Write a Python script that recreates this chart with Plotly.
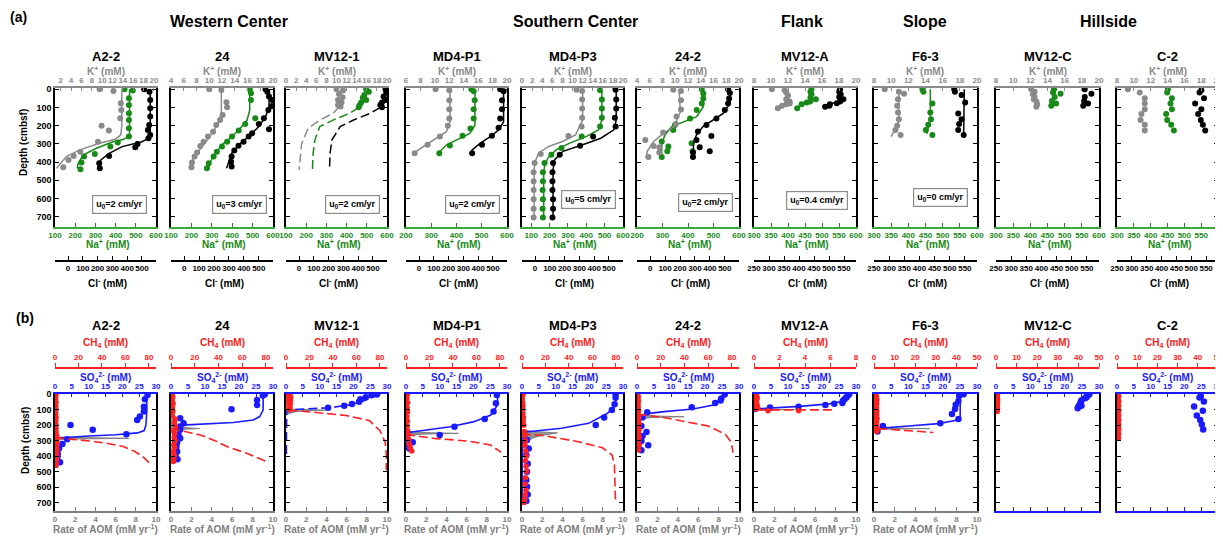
import plotly.graph_objects as go

FIG_W, FIG_H = 1215, 531      # page body has an 8 px margin
OFF = 8
FONT = "Liberation Sans, Arial, sans-serif"

# ======================= DATA =======================
stations = ["A2-2", "24", "MV12-1", "MD4-P1", "MD4-P3", "24-2", "MV12-A", "F6-3", "MV12-C", "C-2"]
groups = ["Western Center", "Southern Center", "Flank", "Slope", "Hillside"]
velocity_labels = ["u<sub>0</sub>=2 cm/yr", "u<sub>0</sub>=3 cm/yr", "u<sub>0</sub>=2 cm/yr",
                   "u<sub>0</sub>=2 cm/yr", "u<sub>0</sub>=5 cm/yr", "u<sub>0</sub>=2 cm/yr",
                   "u<sub>0</sub>=0.4 cm/yr", "u<sub>0</sub>=0 cm/yr", None, None]
depth_ticks = [0, 100, 200, 300, 400, 500, 600, 700]

K_ranges = [[0.9, 20.4], [4, 20], [0, 20], [6, 20], [0, 20], [4, 20], [8, 20], [8, 20], [8, 20], [8, 20]]
Na_ranges = [[100, 600], [100, 600], [100, 600], [200, 600], [50, 600], [200, 600],
             [300, 600], [300, 600], [300, 600], [300, 600]]
Na_dticks = [100, 100, 100, 100, 100, 100, 50, 50, 50, 50]
Cl_ranges = [[-88, 595]] * 6 + [[250, 590]] * 4
Cl_ticks = [[0, 100, 200, 300, 400, 500]] * 6 + [[250, 300, 350, 400, 450, 500, 550]] * 4
CH4_ranges = [[0, 86]] * 6 + [[0, 8]] + [[0, 50]] * 3
CH4_dticks = [20] * 6 + [2] + [10] * 3
SO4_range = [0, 30]
AOM_range = [0, 10]

# ---- (a) pore-water K+, Na+, Cl- : [depth (cmbsf), concentration (mM)] ----
A22_K = [[0, 9.5], [9, 12.2], [77, 13.6], [114, 13.7], [159, 13.5], [200, 9.9], [227, 11.3], [288, 9.2],
         [343, 5.8], [366, 4.5], [388, 3.5], [429, 2.5]]
A22_K_fit = [[0, 13.8], [100, 13.8], [200, 13.8], [250, 13.6], [275, 12.5], [297, 9.5], [333, 5.7],
             [370, 3.1], [434, 1.2]]
A22_Na = [[0, 444], [7, 485], [49, 466], [86, 466], [132, 466], [169, 466], [214, 466], [260, 466],
          [293, 411], [315, 374], [355, 297], [370, 244], [403, 231], [440, 226]]
A22_Na_fit = [[0, 469], [150, 469], [255, 469], [275, 440], [288, 387], [324, 305], [361, 239],
              [407, 215], [434, 210]]
A22_Cl = [[0, 515], [13, 551], [59, 556], [104, 556], [150, 556], [196, 549], [224, 540], [251, 556],
          [269, 544], [300, 470], [318, 455], [366, 278], [407, 211], [434, 215]]
A22_Cl_fit = [[0, 556], [150, 556], [258, 556], [275, 530], [288, 500], [315, 367], [352, 278],
              [388, 222], [434, 200]]

S24_K = [[0, 10.0], [4, 11.9], [71, 12.7], [99, 12.8], [141, 12.1], [169, 11.7], [196, 11.1], [233, 10.6],
         [260, 9.8], [288, 9.1], [311, 8.6], [348, 8.1], [370, 7.7], [403, 7.3], [429, 7.2]]
S24_K_fit = [[0, 11.9], [130, 11.9], [187, 11.4], [260, 10.1], [333, 8.5], [388, 7.4], [434, 6.9]]
S24_Na = [[0, 486], [22, 492], [59, 492], [159, 513], [190, 464], [227, 432], [260, 399], [288, 375],
          [315, 350], [343, 325], [370, 309], [407, 285], [434, 276]]
S24_Na_fit = [[0, 486], [114, 486], [169, 473], [214, 440], [251, 407], [297, 358], [352, 317],
              [398, 293], [434, 285]]
S24_Cl = [[0, 545], [13, 557], [40, 568], [59, 590], [92, 588], [114, 564], [159, 534], [190, 500],
          [220, 568], [242, 455], [260, 432], [288, 398], [310, 364], [337, 336], [370, 318], [398, 314],
          [425, 318]]
S24_Cl_fit = [[0, 568], [100, 568], [150, 545], [205, 500], [260, 432], [306, 364], [352, 318],
              [407, 295], [434, 284]]

MV121_K = [[0, 10.0], [7, 11.3], [26, 10.5], [44, 11.2], [59, 10.3], [73, 11.0], [86, 10.3], [95, 10.8]]
MV121_K_fit = [[95, 10.6], [132, 9.3], [169, 6.7], [214, 4.4], [297, 3.1], [370, 2.8], [443, 2.6]]
MV121_Na = [[0, 497], [13, 510], [31, 488], [46, 480], [59, 497], [73, 472], [88, 464], [99, 460]]
MV121_Na_fit = [[99, 460], [132, 415], [169, 333], [205, 267], [279, 243], [352, 234], [443, 231]]
MV121_Cl = [[0, 585], [18, 590], [40, 572], [59, 584], [73, 561], [86, 550], [99, 561]]
MV121_Cl_fit = [[99, 550], [132, 482], [169, 369], [205, 278], [279, 222], [352, 210], [443, 206]]

MD4P1_K = [[0, 10.1], [5, 12.0], [60, 12.0], [109, 12.0], [160, 12.0], [200, 11.8], [260, 10.7],
           [305, 9.0], [351, 7.2]]
MD4P1_K_fit = [[0, 12.1], [178, 12.1], [233, 11.6], [269, 10.2], [305, 8.9], [333, 7.7], [360, 7.0]]
MD4P1_Na = [[0, 459], [11, 468], [60, 472], [109, 468], [160, 468], [215, 455], [255, 424], [309, 374],
            [351, 332]]
MD4P1_Na_fit = [[0, 473], [196, 473], [242, 453], [278, 400], [305, 361], [342, 334], [360, 332]]
MD4P1_Cl = [[0, 549], [11, 572], [60, 561], [109, 561], [160, 549], [211, 538], [255, 493], [305, 426],
            [351, 359]]
MD4P1_Cl_fit = [[0, 572], [178, 572], [224, 538], [260, 482], [296, 415], [333, 359], [360, 352]]

MD4P3_K = [[2, 10.8], [9, 11.9], [56, 11.9], [105, 11.9], [156, 11.9], [205, 11.8], [256, 9.2], [356, 3.7],
           [405, 2.5], [456, 2.3], [505, 2.3], [554, 2.3], [605, 2.3], [656, 2.3], [705, 2.3]]
MD4P3_K_fit = [[0, 12.0], [169, 12.0], [251, 10.6], [287, 8.0], [314, 5.3], [350, 3.3], [396, 2.6],
               [441, 2.4], [714, 2.4]]
MD4P3_Na = [[5, 475], [56, 485], [105, 485], [156, 485], [205, 475], [259, 375], [323, 265], [360, 210],
            [405, 173], [456, 164], [505, 164], [554, 162], [605, 164], [656, 162], [705, 164]]
MD4P3_Na_fit = [[0, 485], [169, 485], [223, 466], [259, 402], [296, 310], [332, 237], [378, 191],
                [423, 173], [459, 168], [714, 168]]
MD4P3_Cl = [[2, 545], [56, 549], [105, 549], [156, 540], [205, 545], [259, 393], [310, 305], [360, 167],
            [405, 122], [456, 118], [505, 118], [554, 118], [605, 122], [656, 122], [705, 118]]
MD4P3_Cl_fit = [[0, 549], [169, 549], [223, 533], [269, 445], [305, 322], [341, 189], [387, 133],
                [441, 122], [714, 122]]

S242_K = [[2, 9.7], [9, 10.9], [60, 10.9], [111, 10.9], [150, 10.2], [191, 10.1], [238, 8.1], [278, 5.3],
          [311, 6.6], [318, 7.5], [347, 7.5], [372, 5.8]]
S242_K_fit = [[0, 10.6], [123, 10.8], [205, 9.8], [241, 8.2], [287, 6.6], [341, 5.6], [378, 5.4]]
S242_Na = [[0, 454], [23, 460], [51, 460], [78, 454], [114, 434], [160, 408], [196, 349], [223, 342],
           [287, 297], [296, 414], [314, 323], [341, 319], [341, 418], [372, 297]]
S242_Na_fit = [[0, 460], [96, 460], [150, 434], [178, 381], [205, 336], [251, 310], [296, 297], [372, 297]]
S242_Cl = [[0, 522], [20, 534], [51, 529], [78, 522], [114, 500], [160, 444], [196, 377], [232, 320],
           [256, 410], [278, 310], [318, 332], [341, 399], [347, 287], [372, 287]]
S242_Cl_fit = [[0, 534], [78, 534], [132, 489], [169, 421], [205, 354], [251, 310], [296, 291], [372, 287]]

MV12A_K = [[0, 10.1], [5, 11.6], [18, 11.8], [36, 12.0], [55, 11.8], [67, 12.2], [78, 12.2], [82, 11.8],
           [91, 11.3], [104, 10.8]]
MV12A_K_fit = [[60, 12.2], [82, 11.4], [109, 10.7]]
MV12A_Na = [[0, 469], [13, 466], [27, 469], [45, 466], [55, 482], [67, 465], [73, 455], [82, 440], [104, 427]]
MV12A_Na_fit = [[55, 484], [73, 465], [85, 440], [109, 425]]
MV12A_Cl = [[0, 537], [13, 534], [27, 539], [42, 534], [55, 548], [67, 537], [76, 526], [82, 503],
            [91, 501], [96, 487]]
MV12A_Cl_fit = [[55, 548], [73, 520], [85, 498], [104, 486]]

F63_K = [[0, 9.25], [13, 10.9], [24, 11.5], [55, 10.8], [91, 10.7], [127, 10.8], [164, 10.9], [200, 10.7],
         [224, 10.5], [251, 11.1]]
F63_K_fit = [[0, 10.9], [173, 10.9], [215, 10.5], [260, 10.0]]
F63_Na = [[0, 441], [13, 444], [78, 470], [127, 464], [164, 466], [195, 458], [224, 451], [251, 470]]
F63_Na_fit = [[0, 464], [150, 464], [200, 459], [245, 454]]
F63_Cl = [[0, 515], [13, 517], [31, 539], [73, 551], [133, 528], [164, 539], [191, 531], [224, 528],
          [251, 546]]
F63_Cl_fit = [[0, 548], [100, 548], [200, 547], [251, 546]]

MV12C_K = [[0, 12.1], [13, 12.5], [27, 12.3], [42, 12.5], [55, 12.4], [67, 12.7], [82, 12.8], [96, 12.7]]
MV12C_Na = [[0, 469], [18, 466], [24, 488], [42, 471], [64, 463], [78, 475], [91, 461]]
MV12C_Cl = [[0, 543], [24, 565], [42, 543], [64, 541], [78, 554], [91, 538]]

C2_K = [[0, 9.3], [18, 10.7], [49, 11.3], [78, 11.3], [109, 11.3], [136, 10.9], [169, 10.8], [195, 11.3],
        [227, 11.3]]
C2_Na = [[0, 451], [18, 449], [49, 463], [78, 459], [109, 463], [136, 446], [169, 449], [195, 461], [227, 469]]
C2_Cl = [[5, 534], [18, 528], [49, 543], [78, 513], [109, 534], [136, 523], [169, 532], [195, 539], [227, 547]]

# ---- (b) SO4, CH4 and AOM rate : [depth (cmbsf), value] ----
A22_SO4 = [[4, 27.5], [32, 26.7], [80, 26.4], [112, 26.4], [144, 25.2], [166, 24.4], [198, 4.6], [230, 11.2],
           [258, 21.2], [291, 3.6], [321, 2.2], [349, 1.2], [381, 0.8], [403, 0.8], [439, 1.5]]
A22_SO4_fit = [[0, 27.2], [100, 27.3], [200, 27.0], [235, 26.5], [250, 24.5], [262, 18], [270, 10], [277, 4],
               [283, 1], [290, 0.3], [450, 0.1]]
A22_CH4 = [[5, 0.8], [28, 0.6], [52, 0.9], [76, 0.7], [100, 0.8], [124, 0.6], [148, 0.9], [172, 0.7],
           [196, 0.8], [220, 0.9], [244, 1.0], [268, 1.4], [290, 1.2], [312, 1.8], [335, 1.4], [358, 1.6],
           [381, 1.3], [404, 1.5], [426, 1.2], [446, 1.0], [460, 0.9]]
A22_CH4_fit = [[280, 0], [285, 5], [292, 15], [302, 30], [318, 45], [338, 58], [370, 68], [405, 75], [442, 80]]
A22_AOM = [[265, 0], [278, 0.5], [285, 7.3], [290, 1.0], [298, 0.2], [310, 0]]

S24_SO4 = [[0, 27.6], [8, 27.0], [37, 25.3], [69, 25.3], [97, 17.8], [155, 2.7], [187, 3.7], [209, 2.7],
           [230, 2.7], [263, 2.2], [284, 2.7], [312, 1.8], [338, 1.6], [370, 1.8], [392, 1.3], [420, 1.9]]
S24_SO4_fit = [[0, 27.1], [101, 27.1], [144, 26.1], [166, 24.2], [183, 18.3], [192, 10.5], [198, 4.7],
               [209, 1.3], [230, 0.6], [430, 0.3]]
S24_CH4 = [[0, 1.0], [20, 1.5], [40, 1.0], [60, 1.8], [85, 1.2], [110, 1.6], [135, 1.1], [160, 3.5],
           [185, 3.0], [210, 3.8], [235, 2.5], [255, 3.2], [280, 2.8], [300, 3.6], [325, 2.4], [345, 3.0],
           [370, 2.2], [395, 2.8], [415, 2.5], [435, 2.0]]
S24_CH4_fit = [[225, 0], [230, 5], [263, 24.6], [300, 37], [338, 47], [381, 63.7], [435, 80.4]]
S24_AOM = [[150, 0], [180, 0.3], [205, 0.6], [215, 1.2], [222, 2.8], [228, 0.8], [240, 0.2], [255, 0]]

MV121_SO4 = [[2, 27.0], [6, 25.4], [20, 23.7], [33, 22.1], [48, 21.7], [63, 19.6], [74, 17.3], [87, 12.5]]
MV121_SO4_fit = [[0, 28], [20, 25.5], [48, 22.5], [70, 18.5], [87, 13], [97, 4], [101, 0.6], [110, 0.2],
                 [400, 0.1]]
MV121_CH4 = [[2, 2.0], [8, 3.5], [14, 2.5], [20, 4.0], [26, 3.0], [32, 2.2], [38, 3.8], [44, 2.6], [50, 3.2],
             [56, 2.4], [62, 3.6], [68, 2.8], [74, 3.0], [80, 2.5], [86, 3.4], [92, 2.8], [98, 3.0]]
MV121_CH4_fit = [[100, 2], [104, 4.4], [115, 21.9], [137, 51], [170, 71], [235, 80], [310, 84.5], [386, 85.4],
                 [490, 85.4]]
MV121_AOM = [[95, 0], [100, 2], [103, 4.1], [108, 1.5], [115, 0.8], [125, 0.3], [135, 0]]

MD4P1_SO4 = [[4, 27], [58, 26.7], [112, 26], [160, 23.4], [210, 14.4], [264, 10], [311, 2], [350, 1]]
MD4P1_SO4_fit = [[0, 27.2], [69, 27.2], [134, 25.2], [177, 20.2], [210, 13.2], [231, 6.2], [246, 1.2],
                 [264, 0.4], [360, 0.2]]
MD4P1_CH4 = [[0, 1.2], [25, 0.8], [55, 1.4], [85, 0.9], [115, 1.3], [145, 0.8], [175, 1.2], [205, 1.0],
             [235, 1.4], [262, 1.8], [292, 2.5], [322, 2.9], [345, 3.5], [367, 4.9]]
MD4P1_CH4_fit = [[260, 0], [264, 3.4], [285, 23.5], [302, 52], [328, 72], [376, 81]]
MD4P1_AOM = [[235, 0], [242, 0.5], [248, 2], [253, 5.2], [258, 1.5], [265, 0.5], [275, 0]]

MD4P3_SO4 = [[0, 27.8], [22, 27.8], [65, 27.5], [102, 26.7], [151, 24.4], [199, 21.9], [296, 1.5], [350, 2],
             [393, 1.3], [450, 1.7], [501, 1.5], [555, 1.3], [598, 1.5], [648, 1.7], [691, 1.3]]
MD4P3_SO4_fit = [[0, 27.9], [69, 27.9], [123, 25.4], [188, 19.8], [220, 11.7], [238, 3.6], [246, 0.5],
                 [350, 0.1], [700, 0.1]]
MD4P3_CH4 = [[5, 0.9], [30, 0.3], [52, 0.5], [75, 0.9], [100, 0.6], [125, 0.8], [150, 1.2], [175, 1.0],
             [200, 1.5], [240, 2.0], [265, 2.5], [300, 2.9], [330, 2.6], [365, 3.2], [400, 3.8], [430, 2.9],
             [465, 3.5], [500, 4.0], [540, 3.0], [580, 2.6], [620, 3.4], [650, 2.8], [680, 2.2], [700, 1.8]]
MD4P3_CH4_fit = [[250, 0], [259, 2], [268, 19], [307, 48], [346, 68.5], [393, 76.7], [458, 78.7], [685, 79.6]]
MD4P3_AOM = [[230, 0], [240, 1], [250, 3.5], [258, 2.5], [268, 1.8], [285, 1], [310, 0.5], [340, 0.2], [360, 0]]

S242_SO4 = [[2, 25.8], [28, 24.8], [40, 24.6], [56, 23.0], [84, 16.1], [117, 3.0], [151, 1.6], [205, 1.3],
            [244, 2.8], [270, 1.6], [302, 1.3], [330, 3.3], [362, 1.3]]
S242_SO4_fit = [[0, 25.2], [40, 25.0], [70, 22.5], [95, 16.5], [112, 8], [125, 3], [138, 0.8], [150, 0.3],
                [372, 0.2]]
S242_CH4 = [[0, 0.6], [15, 1.0], [30, 0.8], [45, 1.2], [60, 0.7], [75, 1.0], [90, 0.8], [105, 1.3],
            [120, 0.9], [135, 1.1], [150, 1.6], [170, 1.2], [190, 1.8], [210, 1.4], [230, 1.7], [250, 1.3],
            [275, 1.9], [300, 1.5], [330, 1.8], [360, 1.4]]
S242_CH4_fit = [[132, 0], [135, 6.6], [150, 22], [171, 37], [205, 60], [259, 74.5], [300, 78.5], [334, 80],
                [377, 81]]
S242_AOM = [[125, 0], [135, 0.5], [141, 2], [145, 4.6], [150, 1.5], [158, 0.5], [170, 0]]

MV12A_SO4 = [[0, 28.0], [11, 27.5], [22, 27.1], [32, 26.6], [43, 26.1], [56, 26.0], [62, 23.6], [70, 21.0],
             [80, 13.1], [86, 4.7], [95, 0.2]]
MV12A_SO4_fit = [[0, 28], [11, 27.5], [43, 26.6], [62, 22.1], [78, 13.4], [88, 4.6], [94, 0.5], [100, 0.2]]
MV12A_CH4 = [[0, 0.15], [8, 0.2], [16, 0.1], [24, 0.25], [32, 0.15], [40, 0.2], [48, 0.1], [56, 0.2],
             [64, 0.15], [72, 0.25], [80, 0.2], [88, 0.3], [96, 0.2], [106, 1.1], [106, 3.5]]
MV12A_CH4_fit = [[101, 0.3], [102, 3.0], [101, 6.4]]
MV12A_AOM = [[95, 0], [99, 4.7], [102, 0]]

F63_SO4 = [[0, 26.1], [11, 24.8], [43, 24.6], [68, 23.8], [96, 23.6], [128, 22.7], [160, 24.6], [188, 19.3],
           [205, 2.6], [241, 1.0]]
F63_SO4_fit = [[0, 25.1], [149, 25.1], [170, 23.6], [190, 18.8], [205, 10], [215, 3.1], [222, 0.7], [245, 0.4]]
F63_CH4 = [[0, 0.6], [12, 1.2], [24, 0.8], [36, 1.4], [48, 0.9], [60, 1.3], [72, 0.7], [84, 1.2], [96, 0.9],
           [108, 1.4], [120, 0.8], [132, 1.3], [144, 1.0], [156, 1.5], [168, 0.9], [180, 1.3], [192, 1.0],
           [204, 1.4], [216, 1.1], [228, 1.6], [240, 1.2]]
F63_CH4_fit = [[222, 2], [230, 11.7], [238, 21.5], [247, 28.8]]
F63_AOM = [[214, 0], [219, 2], [222, 5.4], [226, 1], [232, 0]]

MV12C_SO4 = [[0, 27.2], [4, 26.9], [13, 26.5], [21, 26.3], [26, 25.9], [38, 24.9], [50, 24.7], [64, 24.4],
             [75, 24.9], [79, 24.0], [90, 23.8]]
MV12C_CH4 = [[0, 0.4], [7, 0.7], [14, 0.3], [21, 0.6], [28, 0.4], [35, 0.8], [42, 0.3], [49, 0.6], [56, 0.5],
             [63, 0.7], [70, 0.3], [77, 0.6], [84, 0.5], [91, 0.7], [98, 0.4], [105, 0.6], [112, 0.5]]

C2_SO4 = [[11, 24.9], [21, 24.5], [47, 25.8], [79, 22.9], [107, 25.5], [138, 23.7], [166, 24.7], [196, 25.2],
          [228, 25.6]]
C2_CH4 = [[0, 0.5], [15, 0.8], [30, 0.4], [45, 0.9], [60, 0.5], [75, 0.8], [90, 0.4], [105, 0.9], [120, 0.6],
          [135, 0.8], [150, 0.5], [165, 0.9], [180, 0.6], [195, 0.8], [210, 0.5], [225, 0.9], [240, 0.6],
          [255, 0.8], [270, 0.5], [285, 0.7]]

panelA = [
    dict(K=A22_K, Kf=A22_K_fit, Na=A22_Na, Naf=A22_Na_fit, Cl=A22_Cl, Clf=A22_Cl_fit, dash=False),
    dict(K=S24_K, Kf=S24_K_fit, Na=S24_Na, Naf=S24_Na_fit, Cl=S24_Cl, Clf=S24_Cl_fit, dash=False),
    dict(K=MV121_K, Kf=MV121_K_fit, Na=MV121_Na, Naf=MV121_Na_fit, Cl=MV121_Cl, Clf=MV121_Cl_fit, dash=True),
    dict(K=MD4P1_K, Kf=MD4P1_K_fit, Na=MD4P1_Na, Naf=MD4P1_Na_fit, Cl=MD4P1_Cl, Clf=MD4P1_Cl_fit, dash=False),
    dict(K=MD4P3_K, Kf=MD4P3_K_fit, Na=MD4P3_Na, Naf=MD4P3_Na_fit, Cl=MD4P3_Cl, Clf=MD4P3_Cl_fit, dash=False),
    dict(K=S242_K, Kf=S242_K_fit, Na=S242_Na, Naf=S242_Na_fit, Cl=S242_Cl, Clf=S242_Cl_fit, dash=False),
    dict(K=MV12A_K, Kf=MV12A_K_fit, Na=MV12A_Na, Naf=MV12A_Na_fit, Cl=MV12A_Cl, Clf=MV12A_Cl_fit, dash=False),
    dict(K=F63_K, Kf=F63_K_fit, Na=F63_Na, Naf=F63_Na_fit, Cl=F63_Cl, Clf=F63_Cl_fit, dash=False),
    dict(K=MV12C_K, Kf=None, Na=MV12C_Na, Naf=None, Cl=MV12C_Cl, Clf=None, dash=False),
    dict(K=C2_K, Kf=None, Na=C2_Na, Naf=None, Cl=C2_Cl, Clf=None, dash=False),
]
panelB = [
    dict(SO4=A22_SO4, SO4f=A22_SO4_fit, CH4=A22_CH4, CH4f=A22_CH4_fit, AOM=A22_AOM, dash=False),
    dict(SO4=S24_SO4, SO4f=S24_SO4_fit, CH4=S24_CH4, CH4f=S24_CH4_fit, AOM=S24_AOM, dash=False),
    dict(SO4=MV121_SO4, SO4f=MV121_SO4_fit, CH4=MV121_CH4, CH4f=MV121_CH4_fit, AOM=MV121_AOM, dash=True),
    dict(SO4=MD4P1_SO4, SO4f=MD4P1_SO4_fit, CH4=MD4P1_CH4, CH4f=MD4P1_CH4_fit, AOM=MD4P1_AOM, dash=False),
    dict(SO4=MD4P3_SO4, SO4f=MD4P3_SO4_fit, CH4=MD4P3_CH4, CH4f=MD4P3_CH4_fit, AOM=MD4P3_AOM, dash=False),
    dict(SO4=S242_SO4, SO4f=S242_SO4_fit, CH4=S242_CH4, CH4f=S242_CH4_fit, AOM=S242_AOM, dash=False),
    dict(SO4=MV12A_SO4, SO4f=MV12A_SO4_fit, CH4=MV12A_CH4, CH4f=MV12A_CH4_fit, AOM=MV12A_AOM, dash=False),
    dict(SO4=F63_SO4, SO4f=F63_SO4_fit, CH4=F63_CH4, CH4f=F63_CH4_fit, AOM=F63_AOM, dash=False),
    dict(SO4=MV12C_SO4, SO4f=None, CH4=MV12C_CH4, CH4f=None, AOM=None, dash=False),
    dict(SO4=C2_SO4, SO4f=None, CH4=C2_CH4, CH4f=None, AOM=None, dash=False),
]

# ======================= LAYOUT (pixel geometry of the window) =======================
col_px = [(55, 156), (171, 273), (286, 387), (406, 507), (522, 623), (637, 739),
          (754, 856), (874, 977), (996, 1099), (1117, 1218)]
rowA_px = (87.5, 227)
rowB_px = (393.5, 511)
cl_line_px = 261
ch4_line_px = 368
group_px = [229, 575, 802, 925, 1108]
u0_px = [(119, 204), (239, 204), (352, 204), (472, 204), (588, 199), (705, 202), (817, 200), (940, 198)]

GRAY = "#8a8a8a"
GREEN = "#178a17"
GREEN_AX = "#3aa83a"
RED = "#ff2020"
BLUE = "#1a1aff"
AOM_GRAY = "#808080"
MODEL_DASH = "9px,4px"


def px(x):
    return (x - OFF) / FIG_W


def py(y):
    return 1 - (y - OFF) / FIG_H


def tf(color, size=8):
    return dict(family=FONT, size=size, color=color, weight="bold")


counters = {"x": 0, "y": 0}


def new_axis(kind):
    counters[kind] += 1
    n = counters[kind]
    return (kind if n == 1 else f"{kind}{n}"), (f"{kind}axis" if n == 1 else f"{kind}axis{n}")


def split(pairs):
    return [p[1] for p in pairs], [p[0] for p in pairs]


base_ax = dict(showgrid=False, zeroline=False, showline=True, linewidth=1.5, ticklen=4, tickwidth=1.2,
               automargin=False, tickangle=0)

fig = go.Figure()
lay = {}
ann = []


def add_pts(pairs, xr, yr, color, size):
    x, y = split(pairs)
    fig.add_trace(go.Scatter(x=x, y=y, xaxis=xr, yaxis=yr, mode="markers",
                             marker=dict(color=color, size=size), showlegend=False))


def add_line(pairs, xr, yr, color, dash="solid", width=1.5):
    x, y = split(pairs)
    fig.add_trace(go.Scatter(x=x, y=y, xaxis=xr, yaxis=yr, mode="lines",
                             line=dict(color=color, width=width, dash=dash), showlegend=False))


def add_empty(xr, yr):
    fig.add_trace(go.Scatter(x=[], y=[], xaxis=xr, yaxis=yr, mode="markers", showlegend=False))


def label(x, y, text, color="black", size=10, angle=0):
    ann.append(dict(x=px(x), y=py(y), xref="paper", yref="paper", text=text, showarrow=False,
                    font=dict(family=FONT, size=size, color=color, weight="bold"), textangle=angle,
                    xanchor="center", yanchor="middle"))


# ---------------- row (a) ----------------
for i, st in enumerate(stations):
    x0, x1 = col_px[i]
    d = panelA[i]
    yr, yk = new_axis("y")
    nar, nak = new_axis("x")
    kr, kk = new_axis("x")
    clr, clk = new_axis("x")
    lay[yk] = dict(base_ax, domain=[py(rowA_px[1]), py(rowA_px[0])], range=[757, -10], anchor=nar,
                   linecolor="black", mirror="ticks", ticks="inside", tickcolor="black",
                   tickvals=depth_ticks, showticklabels=(i == 0), tickfont=tf("black", 9))
    lay[nak] = dict(base_ax, domain=[px(x0), px(x1)], anchor=yr, side="bottom", range=Na_ranges[i],
                    dtick=Na_dticks[i], tick0=0, linecolor=GREEN_AX, ticks="inside", tickcolor=GREEN,
                    tickfont=tf(GREEN))
    lay[kk] = dict(base_ax, overlaying=nar, anchor=yr, side="top", range=K_ranges[i], dtick=2, tick0=0,
                   linecolor=GRAY, ticks="inside", tickcolor=GRAY, tickfont=tf(GRAY))
    lay[clk] = dict(base_ax, overlaying=nar, anchor="free", position=py(cl_line_px), side="bottom",
                    range=Cl_ranges[i], tickvals=Cl_ticks[i], linecolor="black", ticks="inside",
                    tickcolor="black", tickfont=tf("black"))
    ldash = MODEL_DASH if d["dash"] else "solid"
    if d["Kf"]:
        add_line(d["Naf"], nar, yr, GREEN, ldash)
        add_line(d["Kf"], kr, yr, GRAY, ldash)
        add_line(d["Clf"], clr, yr, "black", ldash)
    add_pts(d["Na"], nar, yr, GREEN, 6)
    add_pts(d["K"], kr, yr, GRAY, 6)
    add_pts(d["Cl"], clr, yr, "black", 6)

    cx = (x0 + x1) / 2
    label(cx, 57, st, size=13)
    label(cx, 71, "K<sup>+</sup> (mM)", GRAY, 10)
    label(cx + 2, 244, "Na<sup>+</sup> (mM)", GREEN, 10)
    label(cx + 2, 283, "Cl<sup>-</sup> (mM)", "black", 10)
    if velocity_labels[i]:
        ux, uy = u0_px[i]
        ann.append(dict(x=px(ux), y=py(uy), xref="paper", yref="paper", text=velocity_labels[i],
                        showarrow=False, font=dict(family=FONT, size=9, color="black", weight="bold"),
                        bordercolor="#8c8c8c", borderwidth=1.2, borderpad=3, bgcolor="white",
                        xanchor="center", yanchor="middle"))

# ---------------- row (b) ----------------
for i, st in enumerate(stations):
    x0, x1 = col_px[i]
    d = panelB[i]
    yr, yk = new_axis("y")
    br, bk = new_axis("x")
    sr, sk = new_axis("x")
    cr, ck = new_axis("x")
    has_aom = d["AOM"] is not None
    lay[yk] = dict(base_ax, domain=[py(rowB_px[1]), py(rowB_px[0])], range=[755, -5], anchor=br,
                   linecolor="black", mirror="ticks", ticks="inside", tickcolor="black",
                   tickvals=depth_ticks, showticklabels=(i == 0), tickfont=tf("black", 9))
    if has_aom:
        lay[bk] = dict(base_ax, domain=[px(x0), px(x1)], anchor=yr, side="bottom", range=AOM_range,
                       dtick=2, tick0=0, linecolor=AOM_GRAY, ticks="inside", tickcolor=AOM_GRAY,
                       tickfont=tf(AOM_GRAY))
    else:
        lay[bk] = dict(base_ax, domain=[px(x0), px(x1)], anchor=yr, side="bottom", range=SO4_range,
                       dtick=5, tick0=0, linecolor=BLUE, ticks="inside", tickcolor=BLUE,
                       showticklabels=False)
    lay[sk] = dict(base_ax, overlaying=br, anchor=yr, side="top", range=SO4_range, dtick=5, tick0=0,
                   linecolor=BLUE, ticks="inside", tickcolor=BLUE, tickfont=tf(BLUE))
    lay[ck] = dict(base_ax, overlaying=br, anchor="free", position=py(ch4_line_px), side="top",
                   range=CH4_ranges[i], dtick=CH4_dticks[i], tick0=0, linecolor=RED, ticks="outside",
                   tickcolor=RED, tickfont=tf(RED))
    if has_aom:
        x, y = split(d["AOM"])
        fig.add_trace(go.Scatter(x=x, y=y, xaxis=br, yaxis=yr, mode="lines", fill="toself",
                                 fillcolor="rgba(128,128,128,0.85)", line=dict(color=AOM_GRAY, width=1),
                                 showlegend=False))
    else:
        add_empty(br, yr)
    if d["CH4f"]:
        add_line(d["CH4f"], cr, yr, RED, MODEL_DASH, 1.6)
    if d["SO4f"]:
        add_line(d["SO4f"], sr, yr, BLUE, MODEL_DASH if d["dash"] else "solid", 1.6)
    add_pts(d["SO4"], sr, yr, BLUE, 6.5)
    add_pts(d["CH4"], cr, yr, RED, 5.5)

    cx = (x0 + x1) / 2
    label(cx, 325, st, size=13)
    label(cx, 343, "CH<sub>4</sub> (mM)", RED, 10)
    label(cx, 377, "SO<sub>4</sub><sup>2-</sup> (mM)", BLUE, 10)
    if has_aom:
        label(cx, 529, "Rate of AOM (mM yr<sup>-1</sup>)", AOM_GRAY, 10)

# ---------------- headings ----------------
label(18, 17, "(a)", size=14)
label(25, 318, "(b)", size=14)
for g, gx in zip(groups, group_px):
    label(gx, 21, g, size=16)
label(23, 143, "Depth (cmbsf)", size=10, angle=-90)
label(25, 441, "Depth (cmbsf)", size=10, angle=-90)

fig.update_layout(template="none", width=FIG_W, height=FIG_H, margin=dict(l=0, r=0, t=0, b=0, pad=0),
                  paper_bgcolor="white", plot_bgcolor="white", showlegend=False,
                  font=dict(family=FONT), annotations=ann, **lay)
fig.write_html("out.html")
